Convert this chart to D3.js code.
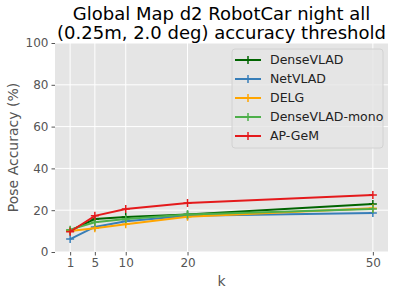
<!DOCTYPE html>
<html lang="en">
<head>
<meta charset="UTF-8">
<title>Global Map d2 RobotCar night all</title>
<script src="https://cdn.jsdelivr.net/npm/d3@7/dist/d3.min.js"></script>
<style>
body{margin:0;background:#fff}
svg text{font-family:"DejaVu Sans",sans-serif}
</style>
</head>
<body>
<div id="grafica"></div>
<script>
// datos
var ks=[1,5,10,20,50]
var denseVLAD=[10.2,15.8,16.8,17.9,23.0]
var netVLAD=[6.2,12.0,14.7,17.4,18.7]
var delg=[10.1,11.4,13.3,16.9,20.9]
var denseVLADmono=[10.7,14.2,15.8,17.9,20.6]
var apGeM=[9.7,17.3,20.6,23.5,27.3]
var xTicks=[1,5,10,20,50]
var yTicks=[0,20,40,60,80,100]
var nombres=['DenseVLAD','NetVLAD','DELG','DenseVLAD-mono','AP-GeM']
var colores=['#006400','#377eb8','#ffa500','#4daf4a','#e41a1c']
var valores=[denseVLAD,netVLAD,delg,denseVLADmono,apGeM]

var ancho=400, alto=288
var margin={top:43, right:12, bottom:36, left:55}
var w=ancho-margin.left-margin.right
var h=alto-margin.top-margin.bottom

var svg=d3.select('#grafica').append('svg')
	.attr('width',ancho).attr('height',alto)
var g=svg.append('g').attr('transform','translate('+margin.left+','+margin.top+')')

var x=d3.scaleLinear().domain([-1.45,52.45]).range([0,w])
var y=d3.scaleLinear().domain([0,100]).range([h,0])

// fondo
g.append('rect').attr('width',w).attr('height',h).attr('fill','#e5e5e5')
// grid
g.selectAll('.gx').data(xTicks).enter().append('line')
	.attr('x1',function(d){return x(d)}).attr('x2',function(d){return x(d)})
	.attr('y1',0).attr('y2',h).attr('stroke','#fff').attr('stroke-width',1)
g.selectAll('.gy').data(yTicks).enter().append('line')
	.attr('y1',function(d){return y(d)}).attr('y2',function(d){return y(d)})
	.attr('x1',0).attr('x2',w).attr('stroke','#fff').attr('stroke-width',1)

// ejes
var ejeX=g.append('g').attr('transform','translate(0,'+h+')')
	.call(d3.axisBottom(x).tickValues(xTicks).tickSize(3.5).tickPadding(3))
var ejeY=g.append('g')
	.call(d3.axisLeft(y).tickValues(yTicks).tickSize(3.5).tickPadding(3))
;[ejeX,ejeY].forEach(function(e){
	e.select('.domain').remove()
	e.selectAll('line').attr('stroke','#555')
	e.selectAll('text').attr('fill','#555').style('font-size','12px')
		.style('font-family','"DejaVu Sans",sans-serif')
})

// lineas
var linea=d3.line().x(function(d,i){return x(ks[i])}).y(function(d){return y(d)})
valores.forEach(function(serie,j){
	g.append('path').datum(serie)
		.attr('fill','none').attr('stroke',colores[j]).attr('stroke-width',2)
		.attr('d',linea)
	g.selectAll('.m'+j).data(serie).enter().append('path')
		.attr('transform',function(d,i){return 'translate('+x(ks[i])+','+y(d)+')'})
		.attr('d','M-4,0H4M0,-4V4')
		.attr('stroke',colores[j]).attr('stroke-width',1.5)
})

// leyenda
var ley=g.append('g').attr('transform','translate(177,6)')
ley.append('rect').attr('width',151).attr('height',99).attr('rx',3)
	.attr('fill','#e5e5e5').attr('fill-opacity',0.8).attr('stroke','#d2d2d2')
nombres.forEach(function(n,i){
	var yy=11+i*19
	ley.append('line').attr('x1',3).attr('x2',29).attr('y1',yy).attr('y2',yy)
		.attr('stroke',colores[i]).attr('stroke-width',2)
	ley.append('path').attr('d','M16,'+(yy-4)+'V'+(yy+4)).attr('stroke',colores[i]).attr('stroke-width',1.5)
	ley.append('text').attr('x',38).attr('y',yy).attr('dy','0.35em')
		.attr('fill','#222').style('font-size','12.5px').text(n)
})

// titulos
svg.append('text').attr('x',margin.left+w/2).attr('y',20).attr('text-anchor','middle')
	.attr('fill','#000').style('font-size','18px').text('Global Map d2 RobotCar night all')
svg.append('text').attr('x',margin.left+w/2).attr('y',39).attr('text-anchor','middle')
	.attr('fill','#000').style('font-size','18px').text('(0.25m, 2.0 deg) accuracy threshold')
svg.append('text').attr('x',margin.left+w/2).attr('y',286).attr('text-anchor','middle')
	.attr('fill','#555').style('font-size','14px').text('k')
svg.append('text').attr('transform','translate(18,'+(margin.top+h/2)+') rotate(-90)')
	.attr('text-anchor','middle').attr('fill','#555').style('font-size','14px')
	.text('Pose Accuracy (%)')
</script>
</body>
</html>
